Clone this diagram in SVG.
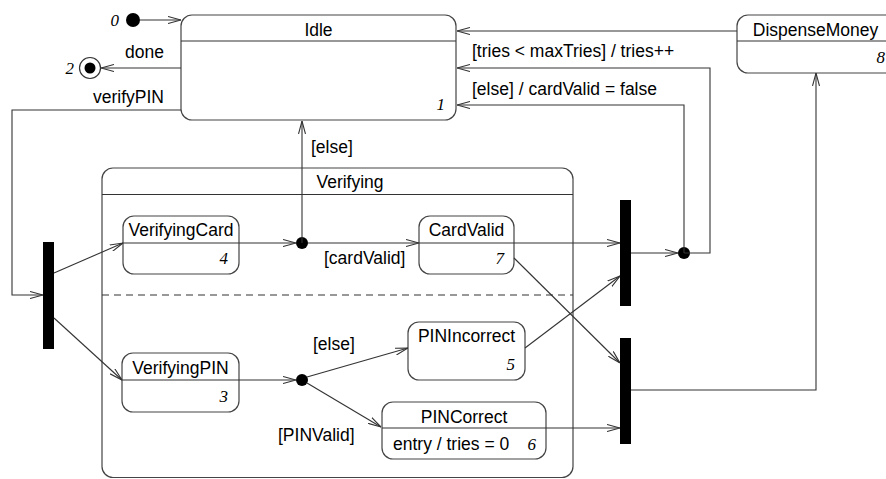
<svg xmlns="http://www.w3.org/2000/svg" width="886" height="479" viewBox="0 0 886 479">
<style>
.box{fill:#fff;stroke:#444;stroke-width:1.2}
.sep{stroke:#333;stroke-width:1.2;fill:none}
.t{font-family:"Liberation Sans",Arial,sans-serif;font-size:17.5px;fill:#000}
.c{text-anchor:middle}
.n{font-family:"Liberation Serif","Times New Roman",serif;font-style:italic;font-size:17px;fill:#000;text-anchor:end}
.ln{fill:none;stroke:#333;stroke-width:1.1}
.bar{fill:#000}
</style>
<defs>
<marker id="a" viewBox="0 0 13 8" refX="13" refY="4" markerWidth="13" markerHeight="8" orient="auto" markerUnits="userSpaceOnUse">
<path d="M0,0.5 L13,4 L0,7.5" fill="none" stroke="#333" stroke-width="1.1"/>
</marker>
</defs>
<rect x="-1" y="-1" width="888" height="481" fill="#fff"/>

<g id="verifying">
<rect class="box" x="102" y="168" width="471" height="309.5" rx="11"/>
<line class="sep" x1="102" y1="194.5" x2="573" y2="194.5"/>
<line x1="102" y1="295" x2="573" y2="295" stroke="#333" stroke-width="1.2" stroke-dasharray="7,5"/>
<text class="t" x="350" y="188" text-anchor="middle">Verifying</text>
</g>

<g id="idle">
<rect class="box" x="181" y="15" width="275" height="105" rx="11"/>
<line class="sep" x1="181" y1="41" x2="456" y2="41"/>
<text class="t c" x="318.5" y="36">Idle</text>
<text class="n" x="445" y="110">1</text>
</g>

<g id="dispense">
<rect class="box" x="737" y="15" width="160" height="58" rx="11"/>
<line class="sep" x1="737" y1="41" x2="897" y2="41"/>
<text class="t c" x="815.5" y="36">DispenseMoney</text>
<text class="n" x="885" y="63">8</text>
</g>

<g id="initial">
<circle cx="133" cy="20" r="7" fill="#000"/>
<text class="n" x="119" y="26">0</text>
</g>

<g id="final">
<circle cx="90" cy="68" r="10.5" fill="#fff" stroke="#333" stroke-width="1.2"/>
<circle cx="90" cy="68" r="5.5" fill="#000"/>
<text class="n" x="74" y="74">2</text>
</g>

<g id="verifyingCard">
<rect class="box" x="123" y="216" width="116" height="58" rx="11"/>
<text class="t c" x="181" y="236">VerifyingCard</text>
<text class="n" x="228" y="264">4</text>
</g>

<g id="cardValid">
<rect class="box" x="419" y="216" width="95" height="58" rx="11"/>
<text class="t c" x="466.5" y="236">CardValid</text>
<text class="n" x="504" y="264">7</text>
</g>

<g id="verifyingPIN">
<rect class="box" x="122" y="353" width="117" height="59" rx="11"/>
<text class="t c" x="180.5" y="374">VerifyingPIN</text>
<text class="n" x="228" y="402">3</text>
</g>

<g id="pinIncorrect">
<rect class="box" x="408" y="322" width="117" height="58" rx="11"/>
<text class="t c" x="466.5" y="342">PINIncorrect</text>
<text class="n" x="515" y="370">5</text>
</g>

<g id="pinCorrect">
<rect class="box" x="382" y="402" width="164" height="57" rx="11"/>
<text class="t c" x="464" y="423">PINCorrect</text>
<text class="t" x="393" y="450">entry / tries = 0</text>
<text class="n" x="536" y="450">6</text>
</g>

<g id="fork1"><rect class="bar" x="43" y="242" width="11" height="107"/></g>
<g id="fork2"><rect class="bar" x="620" y="200" width="11" height="106"/></g>
<g id="fork3"><rect class="bar" x="620" y="338" width="11" height="106"/></g>
<g id="junction1"><circle cx="302" cy="243" r="6" fill="#000"/></g>
<g id="junction2"><circle cx="302" cy="380" r="6" fill="#000"/></g>
<g id="junction3"><circle cx="684" cy="253" r="6" fill="#000"/></g>

<g id="connectors">
<line class="ln" x1="140" y1="20" x2="181" y2="20" marker-end="url(#a)"/>
<line class="ln" x1="181" y1="68" x2="101" y2="68" marker-end="url(#a)"/>
<polyline class="ln" points="181,110 12,110 12,295 43,295" marker-end="url(#a)"/>
<line class="ln" x1="54" y1="273" x2="123" y2="243" marker-end="url(#a)"/>
<line class="ln" x1="54" y1="318" x2="122" y2="380" marker-end="url(#a)"/>
<line class="ln" x1="123" y1="243" x2="296" y2="243" marker-end="url(#a)"/>
<line class="ln" x1="302" y1="243" x2="302" y2="121" marker-end="url(#a)"/>
<line class="ln" x1="308" y1="243" x2="419" y2="243" marker-end="url(#a)"/>
<line class="ln" x1="419" y1="243" x2="620" y2="243" marker-end="url(#a)"/>
<line class="ln" x1="514" y1="258" x2="620" y2="363" marker-end="url(#a)"/>
<line class="ln" x1="122" y1="380" x2="296" y2="380" marker-end="url(#a)"/>
<line class="ln" x1="307" y1="377" x2="408" y2="348" marker-end="url(#a)"/>
<line class="ln" x1="307" y1="383" x2="381" y2="427" marker-end="url(#a)"/>
<line class="ln" x1="525" y1="348" x2="620" y2="276" marker-end="url(#a)"/>
<line class="ln" x1="382" y1="428" x2="620" y2="428" marker-end="url(#a)"/>
<line class="ln" x1="631" y1="253" x2="678" y2="253" marker-end="url(#a)"/>
<polyline class="ln" points="684,253 710,253 710,68 457,68" marker-end="url(#a)"/>
<polyline class="ln" points="684,253 684,105 457,105" marker-end="url(#a)"/>
<line class="ln" x1="737" y1="31" x2="457" y2="31" marker-end="url(#a)"/>
<polyline class="ln" points="631,390 816,390 816,73" marker-end="url(#a)"/>
<text class="t" x="125" y="58">done</text>
<text class="t" x="93" y="103">verifyPIN</text>
<text class="t" x="472" y="57">[tries &lt; maxTries] / tries++</text>
<text class="t" x="472" y="95">[else] / cardValid = false</text>
<text class="t" x="311" y="153">[else]</text>
<text class="t" x="324" y="264">[cardValid]</text>
<text class="t" x="313" y="350">[else]</text>
<text class="t" x="278" y="441">[PINValid]</text>
</g>
</svg>
